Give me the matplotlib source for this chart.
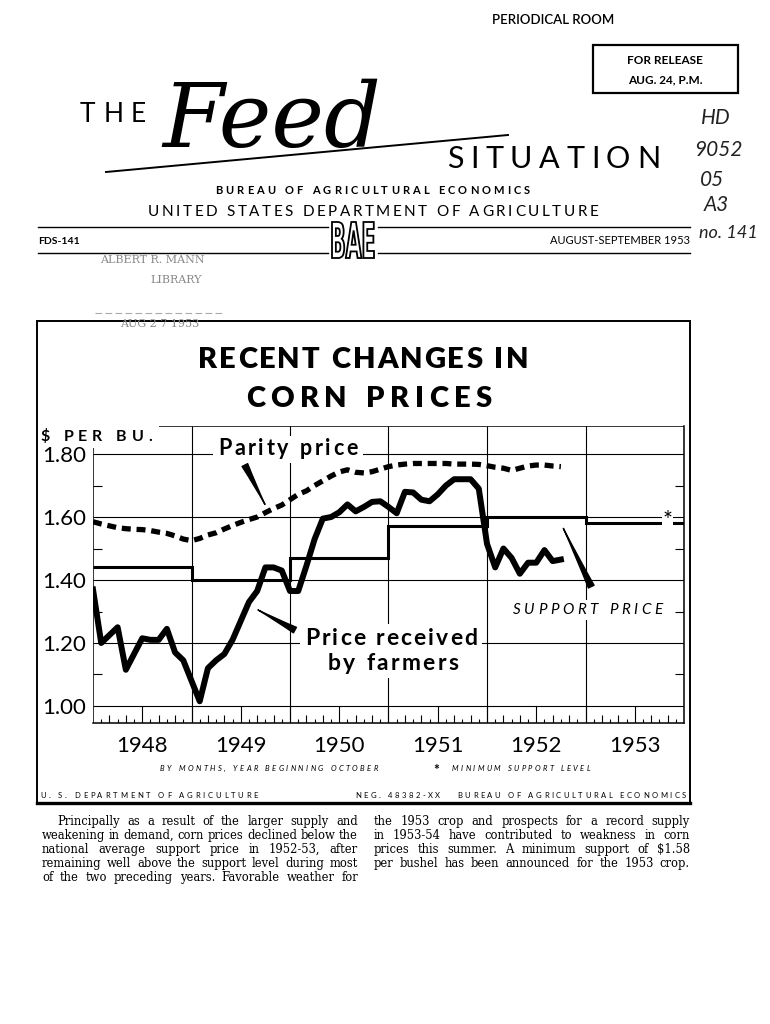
import matplotlib.pyplot as plt
import numpy as np
from matplotlib.font_manager import FontProperties
from matplotlib.patches import PathPatch, Rectangle
from matplotlib.textpath import TextPath
from matplotlib.transforms import Affine2D

plt.rcParams["font.family"] = ["Lato", "DejaVu Sans"]

# monthly prices, month 0 = October 1948 (year begins October)
months = np.arange(58)
price_received = [
    1.37, 1.20, 1.225, 1.25, 1.115, 1.165, 1.215, 1.21, 1.21, 1.245, 1.17, 1.145,
    1.08, 1.015, 1.12, 1.145, 1.165, 1.21, 1.27, 1.33, 1.365, 1.44, 1.44, 1.43,
    1.365, 1.365, 1.445, 1.53, 1.595, 1.60, 1.615, 1.64, 1.618, 1.632, 1.648, 1.65,
    1.632, 1.612, 1.68, 1.678, 1.655, 1.65, 1.672, 1.70, 1.72, 1.72, 1.72, 1.69,
    1.515, 1.44, 1.50, 1.47, 1.42, 1.455, 1.455, 1.495, 1.46, 1.465,
]
parity_price = [
    1.585, 1.578, 1.572, 1.566, 1.563, 1.561, 1.56, 1.557, 1.552, 1.548, 1.54, 1.53,
    1.525, 1.532, 1.543, 1.55, 1.562, 1.573, 1.583, 1.592, 1.60, 1.614, 1.627, 1.638,
    1.655, 1.672, 1.683, 1.70, 1.715, 1.73, 1.743, 1.75, 1.742, 1.74, 1.744, 1.752,
    1.76, 1.765, 1.768, 1.77, 1.77, 1.77, 1.77, 1.77, 1.768, 1.768, 1.768, 1.767,
    1.763, 1.758, 1.755, 1.748, 1.755, 1.762, 1.765, 1.765, 1.762, 1.76,
]
support_edges = [0, 12, 24, 36, 48, 60, 72]
support_price = [1.44, 1.40, 1.47, 1.57, 1.60, 1.58]
min_support_mark = 1.60
year_labels = ["1948", "1949", "1950", "1951", "1952", "1953"]
y_ticks = [1.00, 1.20, 1.40, 1.60, 1.80]
half_ticks = [1.10, 1.30, 1.50, 1.70]

left_col = [
    "Principally as a result of the larger supply and",
    "weakening in demand, corn prices declined below the",
    "national average support price in 1952-53, after",
    "remaining well above the support level during most",
    "of the two preceding years.  Favorable weather for",
]
right_col = [
    "the 1953 crop and prospects for a record supply",
    "in 1953-54 have contributed to weakness in corn",
    "prices this summer.  A minimum support of $1.58",
    "per bushel has been announced for the 1953 crop.",
]

W, H = 770, 1024
fig = plt.figure(figsize=(W / 100, H / 100), dpi=100)
renderer = fig.canvas.get_renderer()

page = fig.add_axes([0, 0, 1, 1])
page.set_xlim(0, W)
page.set_ylim(H, 0)
page.axis("off")


def px_rect(l, t, r, b):
    return [l / W, 1 - b / H, (r - l) / W, (b - t) / H]


ax = fig.add_axes(px_rect(93, 426, 684, 723))
ax.set_xlim(0, 72)
ax.set_ylim(0.946, 1.889)
ax.patch.set_alpha(0)

over = fig.add_axes([0, 0, 1, 1])
over.set_xlim(0, W)
over.set_ylim(H, 0)
over.axis("off")


def measure(s, **kw):
    t = over.text(0, 0, s, **kw)
    w = t.get_window_extent(renderer).width
    t.remove()
    return w


def spaced(target, x0, x1, y, s, bg=False, **kw):
    size = kw.get("fontsize", 10)
    space = 0.28 * size * 100 / 72
    ws = [space if c == " " else measure(c, **kw) for c in s]
    gap = (x1 - x0 - sum(ws)) / (len(s) - 1)
    if bg:
        target.add_patch(Rectangle((x0 - 5, y - size * 1.25), x1 - x0 + 10, size * 1.75,
                                   fc="white", ec="none", zorder=1))
    x = x0
    for c, w in zip(s, ws):
        if c != " ":
            target.text(x, y, c, ha="left", va="baseline", zorder=2, **kw)
        x += w + gap


def justify(x0, x1, y, line, indent=0, **kw):
    words = line.split()
    ws = [measure(w, **kw) for w in words]
    gap = (x1 - x0 - indent - sum(ws)) / (len(words) - 1)
    x = x0 + indent
    for w, wd in zip(words, ws):
        page.text(x, y, w, ha="left", va="baseline", **kw)
        x += wd + gap


# ---- page header
page.text(553, 24, "PERIODICAL ROOM", fontsize=9.5, ha="center", va="baseline",
          fontweight="semibold")
page.add_patch(Rectangle((593, 45), 145, 48, fill=False, lw=1.6, ec="k"))
page.text(665, 64, "FOR RELEASE", fontsize=8.5, fontweight="bold", ha="center", va="baseline")
page.text(665, 83, "AUG. 24, P.M.", fontsize=8.5, fontweight="bold", ha="center", va="baseline")

spaced(page, 80, 146, 122, "THE", fontsize=19)
page.text(272, 147, "Feed", fontsize=64, family="DejaVu Serif", style="italic",
          ha="center", va="baseline")
page.plot([106, 508], [172, 135], color="k", lw=1.4)
spaced(page, 447, 660, 168, "SITUATION", fontsize=22)
spaced(page, 215, 530, 194, "BUREAU OF AGRICULTURAL ECONOMICS", fontsize=8, fontweight="bold")
spaced(page, 148, 598, 216, "UNITED STATES DEPARTMENT OF AGRICULTURE", fontsize=11)

for yy in (227, 253):
    page.plot([38, 328], [yy, yy], color="k", lw=1.0)
    page.plot([378, 690], [yy, yy], color="k", lw=1.0)
tp = TextPath((0, 0), "BAE", size=10, prop=FontProperties(family="DejaVu Sans", weight="bold"))
bb = tp.get_extents()
logo_tf = (Affine2D().translate(-bb.x0 - bb.width / 2, -bb.y0 - bb.height / 2)
           .scale(42 / bb.width, -36 / bb.height).translate(353, 240) + page.transData)
page.add_patch(PathPatch(tp, transform=logo_tf, fc="white", ec="k", lw=1.3))
page.text(38, 244, "FDS-141", fontsize=7.5, fontweight="bold", va="baseline")
page.text(690, 244, "AUGUST-SEPTEMBER 1953", fontsize=8, ha="right", va="baseline")

hand = dict(style="italic", color="#222", ha="center", va="center")
page.text(716, 118, "HD", fontsize=15, **hand)
page.text(718, 150, "9052", fontsize=15, **hand)
page.text(712, 180, "05", fontsize=15, **hand)
page.text(716, 205, "A3", fontsize=15, **hand)
page.text(728, 233, "no. 141", fontsize=13, **hand)

stamp = dict(family="DejaVu Serif", color="#888", va="baseline")
page.text(100, 263, "ALBERT R. MANN", fontsize=8, **stamp)
page.text(150, 283, "LIBRARY", fontsize=8, **stamp)
page.plot([95, 225], [313, 313], color="#aaa", lw=0.8, ls=(0, (6, 3)))
page.text(120, 327, "AUG 2 7 1953", fontsize=8, **stamp)

# ---- chart frame and titles
page.add_patch(Rectangle((37, 321), 653, 482, fill=False, lw=1.4, ec="k"))
page.plot([37, 690], [803, 803], color="k", lw=2.4)
spaced(page, 198, 528, 368, "RECENT CHANGES IN", fontsize=21, fontweight="heavy")
spaced(page, 246, 492, 407, "CORN PRICES", fontsize=21, fontweight="heavy")
spaced(page, 40, 152, 441, "$ PER BU.", fontsize=11.5, fontweight="bold")

# ---- chart body
ax.spines[["top", "left"]].set_visible(False)
ax.spines[["right", "bottom"]].set_linewidth(1.1)
ax.vlines(0, 0.946, 1.82, color="k", lw=1.1)
ax.hlines(1.889, 8, 72, color="k", lw=1.1)
ax.hlines(y_ticks, 0, 72, color="k", lw=0.8)
ax.vlines(support_edges[1:-1], 0.946, 1.889, color="k", lw=0.8)
ax.hlines(half_ticks, 0, 1.1, color="k", lw=0.8)
ax.hlines(half_ticks, 70.9, 72, color="k", lw=0.8)

tick_months = np.arange(1, 72)
tick_top = np.where(tick_months % 6 == 0, 1.0, np.where(tick_months % 2 == 0, 0.972, 0.96))
ax.vlines(tick_months, 0.946, tick_top, color="k", lw=0.8)

ax.stairs(support_price, support_edges, baseline=None, color="k", lw=2.2, zorder=3)
ax.plot(months, parity_price, color="k", lw=3.8, dashes=(1.7, 1.1),
        dash_capstyle="butt", zorder=4)
ax.plot(months, price_received, color="k", lw=4.3, solid_joinstyle="round", zorder=5)

ax.set_xticks([6, 18, 30, 42, 54, 66], year_labels)
ax.set_yticks(y_ticks, [f"{v:.2f}" for v in y_ticks])
ax.tick_params(axis="x", length=0, pad=9, labelsize=16)
ax.tick_params(axis="y", length=0, pad=5, labelsize=16)

wedge = dict(arrowstyle="wedge,tail_width=0.45,shrink_factor=0.4", fc="k", ec="k",
             shrinkA=0, shrinkB=0)
ax.annotate("", xy=(20.95, 1.64), xytext=(18.5, 1.765), arrowprops=wedge)
ax.annotate("", xy=(20.1, 1.305), xytext=(24.6, 1.241), arrowprops=wedge)
ax.annotate("", xy=(57.3, 1.564), xytext=(60.7, 1.379), arrowprops=wedge)

# labels on top of the grid
spaced(over, 218, 358, 455, "Parity price", bg=True, fontsize=15.5, fontweight="bold")
spaced(over, 305, 477, 645, "Price received", bg=True, fontsize=16.5, fontweight="bold")
spaced(over, 328, 458, 670, "by farmers", bg=True, fontsize=16.5, fontweight="bold")
spaced(over, 513, 662, 614, "SUPPORT PRICE", bg=True, fontsize=11, style="italic")
ax.text(70, min_support_mark - 0.012, "*", fontsize=17, ha="center", va="center",
        bbox=dict(fc="white", ec="none", pad=0.5), zorder=6)

spaced(page, 160, 378, 771, "BY MONTHS, YEAR BEGINNING OCTOBER", fontsize=5.5, style="italic")
page.text(436, 774, "*", fontsize=10, fontweight="bold", ha="center", va="baseline")
spaced(page, 452, 590, 771, "MINIMUM SUPPORT LEVEL", fontsize=5.5, style="italic")
spaced(page, 40, 258, 798, "U. S. DEPARTMENT OF AGRICULTURE", fontsize=5.5)
spaced(page, 355, 686, 798, "NEG. 48382-XX   BUREAU OF AGRICULTURAL ECONOMICS", fontsize=5.5)

# ---- text below chart
body = dict(family="DejaVu Serif", fontsize=8.3)
for i, line in enumerate(left_col):
    justify(42, 358, 825 + 14 * i, line, indent=15 if i == 0 else 0, **body)
for i, line in enumerate(right_col):
    justify(374, 690, 825 + 14 * i, line, **body)

fig.savefig("out.png", dpi=100)
